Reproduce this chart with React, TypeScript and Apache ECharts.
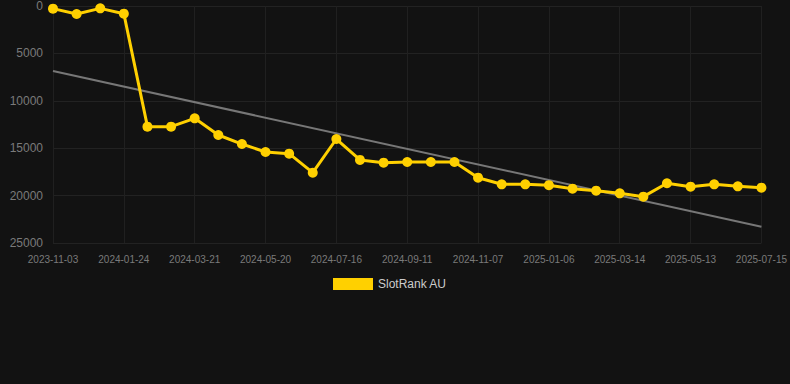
import React, { useEffect, useRef } from "react";
import * as echarts from "echarts";

const dates: string[] = [
  "2023-11-03", "2023-11-30", "2023-12-27", "2024-01-24", "2024-02-12", "2024-03-02",
  "2024-03-21", "2024-04-10", "2024-04-30", "2024-05-20", "2024-06-08", "2024-06-27",
  "2024-07-16", "2024-08-04", "2024-08-23", "2024-09-11", "2024-09-30", "2024-10-19",
  "2024-11-07", "2024-11-27", "2024-12-17", "2025-01-06", "2025-01-28", "2025-02-20",
  "2025-03-14", "2025-04-03", "2025-04-23", "2025-05-13", "2025-06-03", "2025-06-24",
  "2025-07-15",
];

const rankValues: number[] = [
  280, 840, 250, 810, 12730, 12730, 11850, 13610, 14560, 15400, 15580,
  17580, 14030, 16240, 16530, 16460, 16460, 16460, 18110, 18810, 18810,
  18900, 19270, 19480, 19760, 20110, 18700, 19060, 18810, 19020, 19160,
];

// trend line endpoints (first and last category)
const trendStart = 6860;
const trendEnd = 23280;

const yTicks = { min: 0, max: 25000, interval: 5000 };

const FONT = "'Liberation Sans', Arial, sans-serif";

export default function App() {
  const ref = useRef<HTMLDivElement>(null);
  useEffect(() => {
    document.body.style.margin = "0";
    document.body.style.background = "#121212";
    const chart = echarts.init(ref.current!, null, { renderer: "svg" });
    const trendData = dates.map((_, i) =>
      i === 0 ? trendStart : i === dates.length - 1 ? trendEnd : null
    );
    chart.setOption({
      animation: false,
      backgroundColor: "#121212",
      textStyle: { fontFamily: FONT },
      grid: { left: 53, right: 28, top: 6, bottom: 141, containLabel: false },
      legend: {
        data: ["SlotRank AU"],
        top: 278,
        left: 333,
        padding: 0,
        itemWidth: 40,
        itemHeight: 12,
        itemGap: 10,
        textStyle: { color: "#cccccc", fontSize: 12, fontFamily: FONT },
        icon: "rect",
      },
      xAxis: {
        type: "category",
        data: dates,
        boundaryGap: false,
        axisLine: { show: false },
        axisTick: { show: false },
        axisLabel: { interval: 2, color: "#7a7a7a", fontSize: 10, margin: 11, fontFamily: FONT },
        splitLine: { show: true, interval: 2, lineStyle: { color: "#202020", width: 1 } },
      },
      yAxis: {
        type: "value",
        inverse: true,
        min: yTicks.min,
        max: yTicks.max,
        interval: yTicks.interval,
        axisLine: { show: false },
        axisTick: { show: false },
        axisLabel: {
          color: "#7a7a7a",
          fontSize: 12,
          margin: 10,
          fontFamily: FONT,
          formatter: (v: number) => String(v),
        },
        splitLine: { lineStyle: { color: "#222222", width: 1 } },
      },
      series: [
        {
          name: "SlotRank AU",
          type: "line",
          data: rankValues,
          symbol: "circle",
          symbolSize: 10,
          z: 3,
          lineStyle: { color: "#FFD000", width: 3 },
          itemStyle: { color: "#FFD000" },
        },
        {
          name: "Trend",
          type: "line",
          data: trendData,
          connectNulls: true,
          symbol: "none",
          z: 2,
          lineStyle: { color: "#777777", width: 2 },
          itemStyle: { color: "#777777" },
        },
      ],
    });
    return () => chart.dispose();
  }, []);
  return <div ref={ref} style={{ width: 790, height: 384 }} />;
}
